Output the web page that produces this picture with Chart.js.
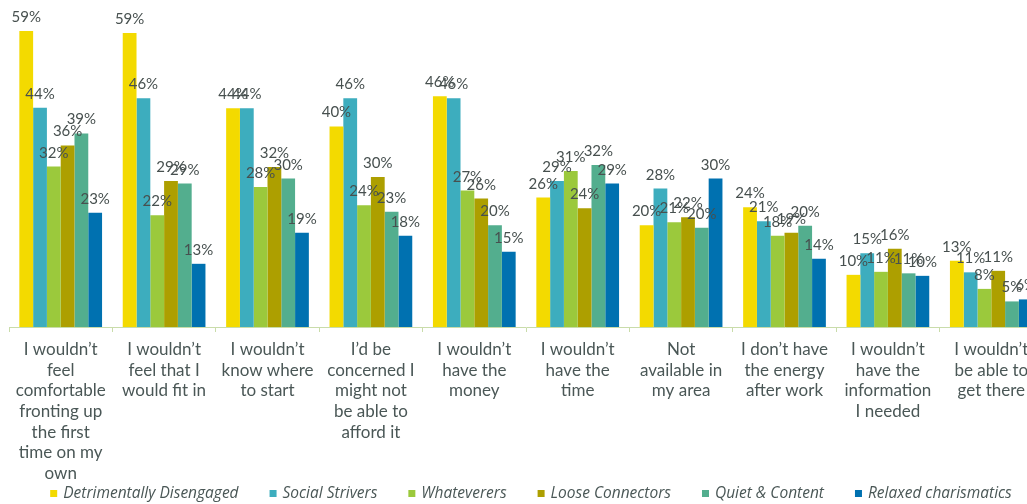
<!DOCTYPE html>
<html>
<head>
<meta charset="utf-8">
<script src="https://cdn.jsdelivr.net/npm/chart.js@4"></script>
<style>
  html, body { margin: 0; padding: 0; background: #fff; overflow: hidden; }
  #wrap { width: 1052px; height: 504px; }
</style>
</head>
<body>
<div id="wrap"><canvas id="barriers" width="1052" height="504"></canvas></div>
<script>
// categories (multi-line axis labels)
var categories = [
  ["I wouldn\u2019t", "feel", "comfortable", "fronting up", "the first", "time on my", "own"],
  ["I wouldn\u2019t", "feel that I", "would fit in"],
  ["I wouldn\u2019t", "know where", "to start"],
  ["I\u2019d be", "concerned I", "might not", "be able to", "afford it"],
  ["I wouldn\u2019t", "have the", "money"],
  ["I wouldn\u2019t", "have the", "time"],
  ["Not", "available in", "my area"],
  ["I don\u2019t have", "the energy", "after work"],
  ["I wouldn\u2019t", "have the", "information", "I needed"],
  ["I wouldn\u2019t", "be able to", "get there"]
];

// series values (%)
var detrimentallyDisengaged = [59.0, 58.6, 43.6, 40.0, 46.0, 25.8, 20.3, 23.9, 10.4, 13.2];
var socialStrivers          = [43.7, 45.6, 43.6, 45.6, 45.6, 29.1, 27.6, 21.1, 14.7, 10.9];
var whateverers             = [32.0, 22.3, 27.9, 24.3, 27.2, 31.1, 20.9, 18.2, 11.0, 7.6];
var looseConnectors         = [36.2, 29.1, 31.9, 29.9, 25.6, 23.7, 21.9, 18.8, 15.6, 11.2];
var quietContent            = [38.6, 28.6, 29.6, 23.0, 20.3, 32.3, 19.8, 20.2, 10.7, 5.1];
var relaxedCharismatics     = [22.8, 12.6, 18.8, 18.2, 15.0, 28.6, 29.6, 13.6, 10.2, 5.5];

var seriesNames  = ["Detrimentally Disengaged", "Social Strivers", "Whateverers", "Loose Connectors", "Quiet & Content", "Relaxed charismatics"];
var seriesValues = [detrimentallyDisengaged, socialStrivers, whateverers, looseConnectors, quietContent, relaxedCharismatics];
var seriesColors = ["#F3DA00", "#3DADBE", "#9BC93C", "#AD9F00", "#53AE8E", "#0071B0"];

var textColor = "#4a5756";

// value labels above each bar
var barLabels = {
  id: 'barLabels',
  afterDatasetsDraw: function(chart) {
    var ctx = chart.ctx;
    ctx.save();
    ctx.font = '15px Lato';
    ctx.fillStyle = '#47504f';
    ctx.textAlign = 'center';
    ctx.textBaseline = 'alphabetic';
    chart.data.datasets.forEach(function(ds, i) {
      chart.getDatasetMeta(i).data.forEach(function(bar, j) {
        ctx.fillText(Math.round(ds.data[j]) + '%', bar.x, bar.y - 9);
      });
    });
    ctx.restore();
  }
};

// legend row along the bottom (small squares + italic names)
var bottomLegend = {
  id: 'bottomLegend',
  afterDraw: function(chart) {
    var ctx = chart.ctx;
    var box = 7, gapText = 6, gapItem = 31, midX = 531, y = 494;
    ctx.save();
    ctx.font = 'italic 15.5px "Open Sans"';
    ctx.textBaseline = 'middle';
    ctx.textAlign = 'left';
    var widths = chart.data.datasets.map(function(ds) { return ctx.measureText(ds.label).width; });
    var total = 0;
    widths.forEach(function(w) { total += box + gapText + w; });
    total += gapItem * (widths.length - 1);
    var x = midX - total / 2;
    chart.data.datasets.forEach(function(ds, i) {
      ctx.fillStyle = ds.backgroundColor;
      ctx.fillRect(x, y - 4, box, box);
      ctx.fillStyle = textColor;
      ctx.fillText(ds.label, x + box + gapText, y);
      x += box + gapText + widths[i] + gapItem;
    });
    ctx.restore();
  }
};

var datasets = [];
seriesNames.forEach(function(name, i) {
  datasets.push({
    label: name,
    data: seriesValues[i],
    backgroundColor: seriesColors[i],
    borderWidth: 0,
    categoryPercentage: 0.8,
    barPercentage: 1.0
  });
});

new Chart(document.getElementById('barriers'), {
  type: 'bar',
  data: { labels: categories, datasets: datasets },
  plugins: [barLabels, bottomLegend],
  options: {
    responsive: false,
    animation: false,
    layout: { padding: { left: 9, right: 9, top: 1, bottom: 0 } },
    plugins: {
      legend: { display: false },
      tooltip: { enabled: false }
    },
    scales: {
      y: { display: false, min: 0, max: 65 },
      x: {
        grid: { display: true, drawOnChartArea: false, drawTicks: true, tickLength: 5, color: '#c9dcaa', offset: true },
        border: { display: true, color: '#c9dcaa', width: 1 },
        ticks: {
          color: textColor,
          font: { family: 'Lato', size: 17, lineHeight: 20.7 / 17 },
          padding: 7,
          maxRotation: 0,
          minRotation: 0,
          autoSkip: false
        },
        afterFit: function(scale) { scale.height = 177; }
      }
    }
  }
});
</script>
</body>
</html>
